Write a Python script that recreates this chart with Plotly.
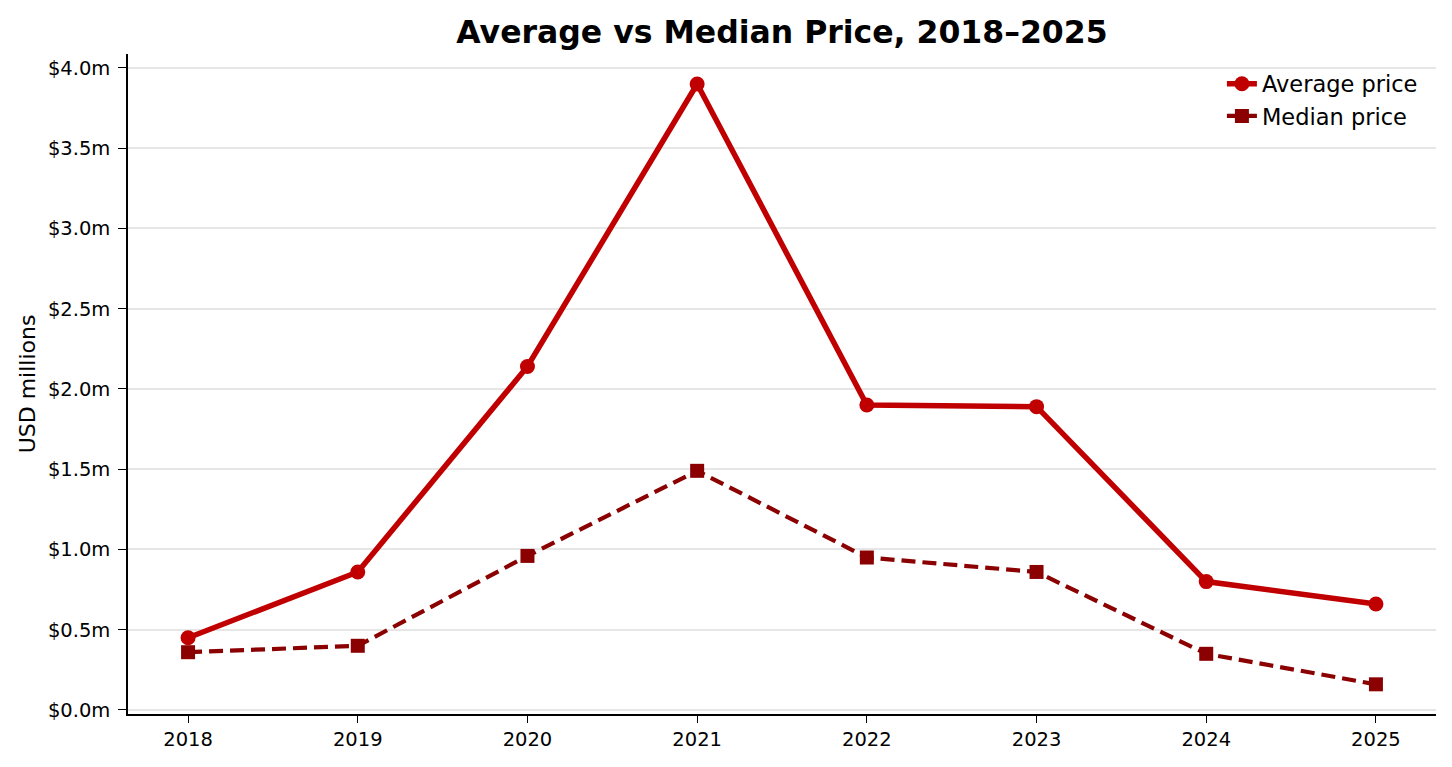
import plotly.graph_objects as go

# data
years = [2018, 2019, 2020, 2021, 2022, 2023, 2024, 2025]
average_price = [0.45, 0.86, 2.14, 3.90, 1.90, 1.89, 0.80, 0.66]
median_price = [0.36, 0.40, 0.96, 1.49, 0.95, 0.86, 0.35, 0.16]
y_ticks = [0.0, 0.5, 1.0, 1.5, 2.0, 2.5, 3.0, 3.5, 4.0]
y_tick_labels = ["$%.1fm" % v for v in y_ticks]

fig = go.Figure()

fig.add_trace(go.Scatter(
    x=years, y=average_price, name="Average price",
    mode="lines+markers",
    line=dict(color="#c00000", width=5.5),
    marker=dict(symbol="circle", size=15, color="#c00000"),
))

fig.add_trace(go.Scatter(
    x=years, y=median_price, name="Median price",
    mode="lines+markers",
    line=dict(color="#8b0000", width=4.2, dash="14px,7px"),
    marker=dict(symbol="square", size=14, color="#8b0000"),
))

# page body has an 8px margin, so the figure is sized to fit inside it
fig.update_layout(
    width=1436, height=751,
    margin=dict(l=120, r=8, t=46, b=45),
    paper_bgcolor="white", plot_bgcolor="white",
    font=dict(family="DejaVu Sans", size=19, color="black"),
    title=dict(text="<b>Average vs Median Price, 2018–2025</b>",
               x=0.5, xref="paper", xanchor="center", y=0.968, yanchor="middle",
               font=dict(size=31.5)),
    legend=dict(x=0.99, y=0.987, xanchor="right", yanchor="top",
                bgcolor="rgba(255,255,255,0)", font=dict(size=22.5)),
    showlegend=True,
)

fig.update_xaxes(
    range=[2017.646, 2025.354], tickvals=years,
    showgrid=False, zeroline=False,
    showline=True, linecolor="black", linewidth=1.6,
    ticks="outside", ticklen=7, tickcolor="black", tickwidth=1.4,
    tickfont=dict(size=19.5),
)

fig.update_yaxes(
    range=[-0.025, 4.087], tickvals=y_ticks, ticktext=y_tick_labels,
    showgrid=True, gridcolor="#e6e6e6", gridwidth=1.6, zeroline=False,
    showline=True, linecolor="black", linewidth=1.6,
    ticks="outside", ticklen=8, tickcolor="black", tickwidth=1.4,
    tickfont=dict(size=19.5), ticklabelstandoff=4,
    title=dict(text="USD millions", font=dict(size=22), standoff=6),
)

fig.write_html("out.html")
